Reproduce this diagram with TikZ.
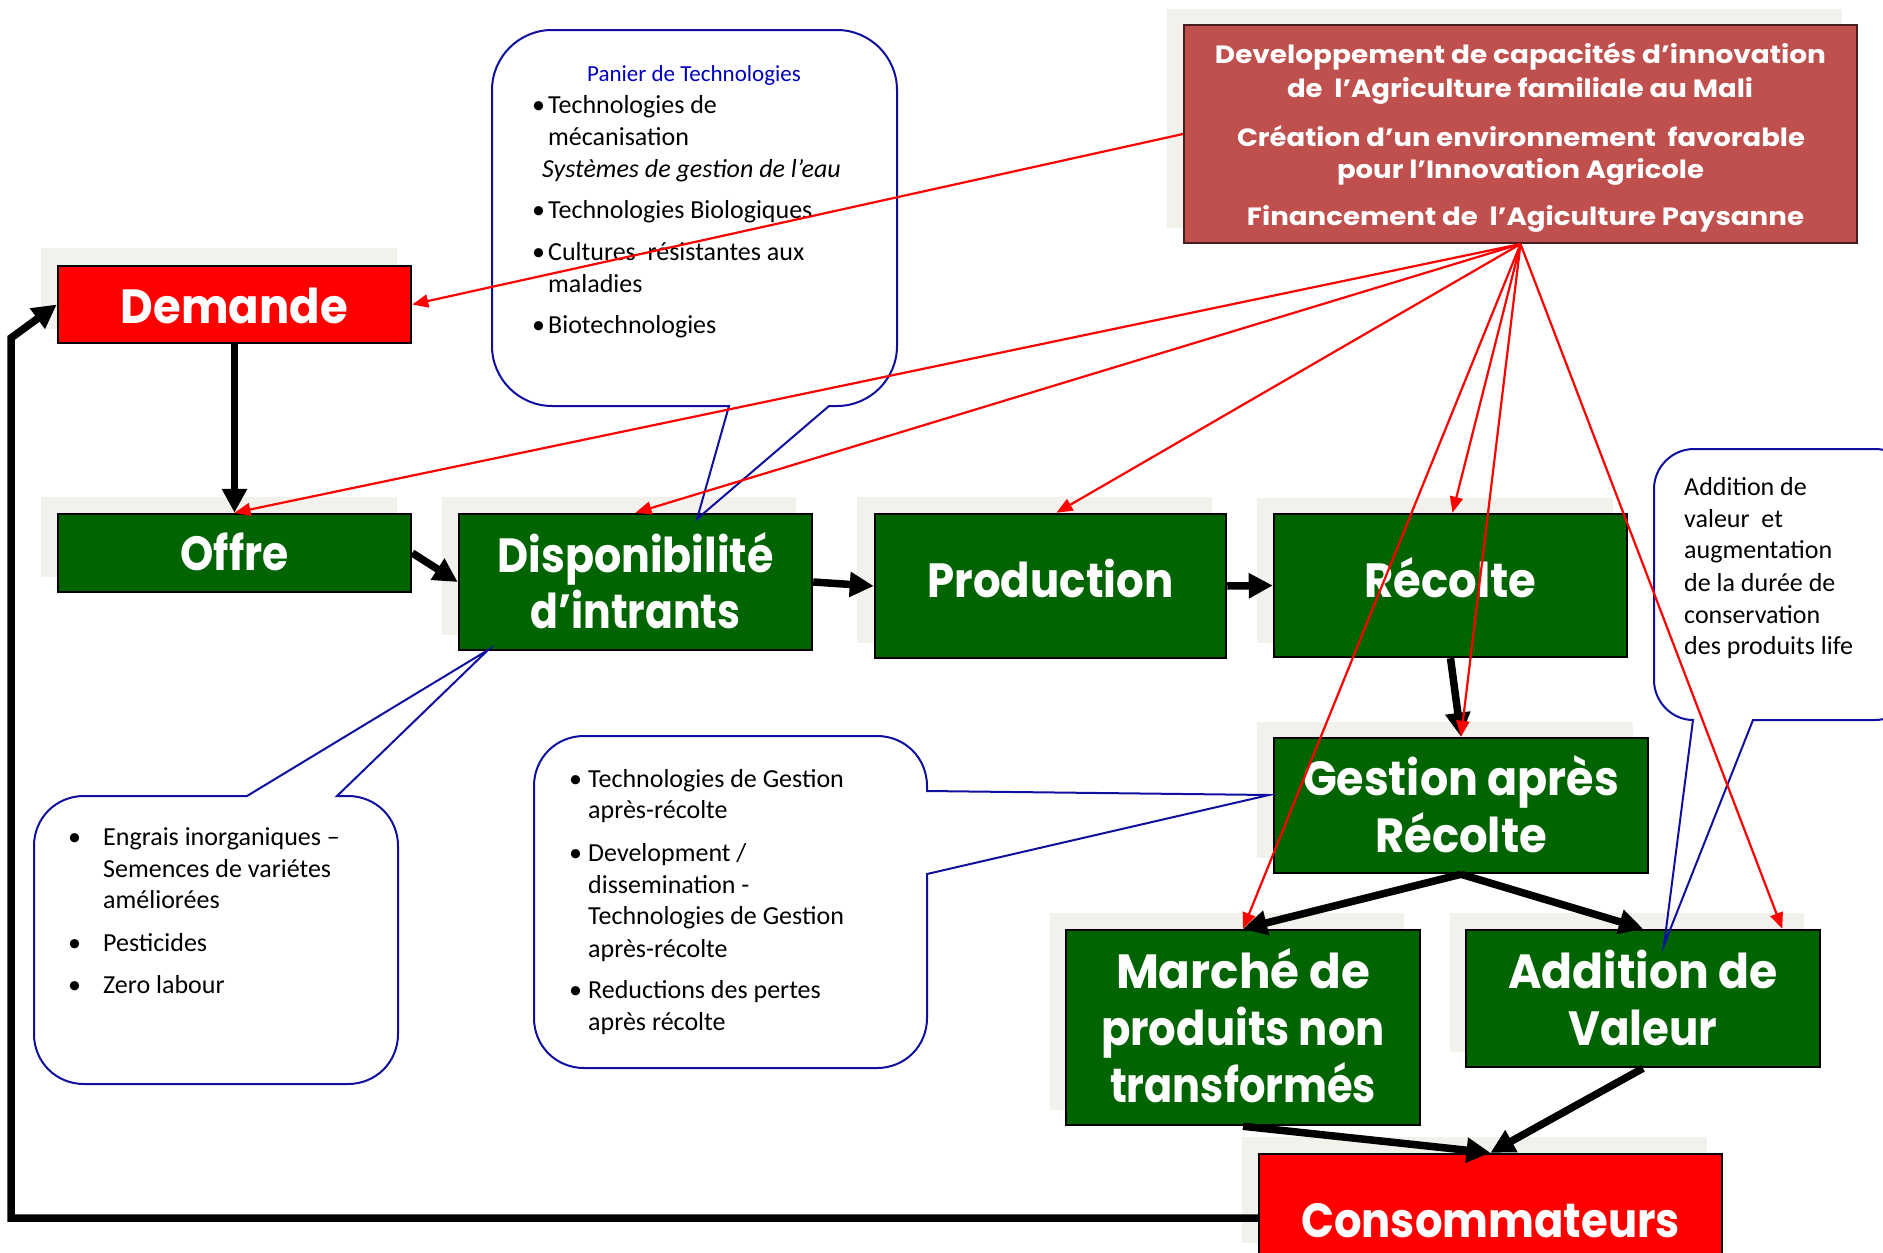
\documentclass[tikz,border=0pt]{standalone}
\usepackage{fontspec}
\usepackage{graphicx}
\setmainfont{Carlito}
\newfontfamily\pop{Poppins}
\usetikzlibrary{arrows.meta,calc}
\definecolor{topred}{RGB}{192,80,77}
\definecolor{topborder}{RGB}{70,30,30}
\definecolor{bred}{RGB}{255,0,0}
\definecolor{bgreen}{RGB}{0,100,0}
\definecolor{shadowgrey}{RGB}{242,241,236}
\definecolor{cblue}{RGB}{16,16,160}
\definecolor{tblue}{RGB}{0,0,190}
\newcommand{\fw}[2]{\resizebox{#1}{\height}{#2}}
\begin{document}
\begin{tikzpicture}[x=1pt,y=-1pt,
  boxnode/.style={rectangle, draw=black, line width=2.5pt, inner sep=0pt},
  lbl/.style={anchor=base, inner sep=0pt, text=white, font=\pop\bfseries\fontsize{48}{57}\selectfont},
  toplbl/.style={anchor=base, inner sep=0pt, text=white, font=\pop\bfseries\fontsize{25}{34}\selectfont},
  blkarrow/.style={draw=black, line width=7.5pt, -{Triangle[length=24pt,width=24pt]}},
  redarrow/.style={draw=bred, line width=2.2pt, -{Triangle[length=16pt,width=13pt]}},
  callout/.style={draw=cblue, line width=2pt},
  ct/.style={anchor=base west, inner sep=0pt, font=\fontsize{26}{32}\selectfont},
]
\useasboundingbox (0,0) rectangle (1883,1253);
\fill[white] (0,0) rectangle (1883,1253);

% grey shadows
\foreach \a/\b/\c/\d in {1167/9/1842/228, 41/248/397/329, 41/497/397/577, 442/497/796/635, 857/497/1212/643, 1257/498/1613/643, 1257/722/1633/858, 1050/913/1404/1110, 1450/913/1804/1052, 1242/1137/1707/1243}
  \fill[shadowgrey] (\a,\b) rectangle (\c,\d);

% boxes
\node[boxnode, fill=topred, draw=topborder, line width=2pt, minimum width=673pt, minimum height=218pt] (top) at (1520.5,134) {};
\node[boxnode, fill=bred, minimum width=353pt, minimum height=77pt] (demande) at (234.5,304.5) {};
\node[boxnode, fill=bgreen, minimum width=353pt, minimum height=78pt] (offre) at (234.5,553) {};
\node[boxnode, fill=bgreen, minimum width=353pt, minimum height=136pt] (dispo) at (635.5,582) {};
\node[boxnode, fill=bgreen, minimum width=351pt, minimum height=144pt] (production) at (1050.5,586) {};
\node[boxnode, fill=bgreen, minimum width=353pt, minimum height=143pt] (recolte) at (1450.5,585.5) {};
\node[boxnode, fill=bgreen, minimum width=374pt, minimum height=135pt] (gestion) at (1461,805.5) {};
\node[boxnode, fill=bgreen, minimum width=354pt, minimum height=195pt] (marche) at (1243,1027.5) {};
\node[boxnode, fill=bgreen, minimum width=354pt, minimum height=137pt] (addition) at (1643,998.5) {};
\node[boxnode, fill=bred, minimum width=463pt, minimum height=128pt] (cons) at (1490.5,1218) {};

% box texts
\node[toplbl] (tl1) at (1520.5,63) {\fw{611pt}{Developpement de capacités d’innovation}};
\node[toplbl] (tl2) at (1520,97) {\fw{466pt}{de\ \ l’Agriculture familiale au Mali}};
\node[toplbl] (tl3) at (1521,146) {\fw{568pt}{Création d’un environnement\ \ favorable}};
\node[toplbl] (tl4) at (1520.5,178) {\fw{367pt}{pour l’Innovation Agricole}};
\node[toplbl] (tl5) at (1525.5,225) {\fw{557pt}{Financement de\ \ l’Agiculture Paysanne}};
\node[lbl] (tdem) at (234.5,323) {\fw{227pt}{Demande}};
\node[lbl] (toff) at (234.5,570) {\fw{108pt}{Offre}};
\node[lbl] (tdis1) at (635.5,572) {\fw{276pt}{Disponibilité}};
\node[lbl] (tdis2) at (635.5,628) {\fw{210pt}{d’intrants}};
\node[lbl] (tpro) at (1050.5,597) {\fw{246pt}{Production}};
\node[lbl] (trec) at (1450.5,597) {\fw{172pt}{Récolte}};
\node[lbl] (tges1) at (1461,795) {\fw{316pt}{Gestion après}};
\node[lbl] (tges2) at (1461,852) {\fw{172pt}{Récolte}};
\node[lbl] (tmar1) at (1243,988) {\fw{254pt}{Marché de}};
\node[lbl] (tmar2) at (1243,1045) {\fw{284pt}{produits non}};
\node[lbl] (tmar3) at (1243,1102) {\fw{266pt}{transformés}};
\node[lbl] (tadd1) at (1643,988) {\fw{270pt}{Addition de}};
\node[lbl] (tadd2) at (1643,1045) {\fw{149pt}{Valeur}};
\node[lbl] (tcon) at (1490.5,1237) {\fw{379pt}{Consommateurs}};

% black flow arrows
\coordinate (fbA) at (11,1218);
\coordinate (fbB) at (11,338);
\draw[blkarrow] (demande.south) -- (offre.north);
\draw[blkarrow] (offre.east) -- (dispo.west);
\draw[blkarrow] (dispo.east) -- (production.west);
\draw[blkarrow] (production.east) -- (recolte.west);
\draw[blkarrow] (recolte.south) -- (gestion.north);
\draw[blkarrow] (gestion.south) -- (marche.north);
\draw[blkarrow] (gestion.south) -- (addition.north);
\draw[blkarrow] (marche.south) -- (cons.north);
\draw[blkarrow] (addition.south) -- (cons.north);
\draw[blkarrow] (cons.west) -- (cons.west -| fbA) -- (fbB) -- (demande.west);

% callouts
\draw[callout] (552,30) -- (837,30) .. controls (870,30) and (897,57) .. (897,90) -- (897,346) .. controls (897,379) and (870,406) .. (837,406) -- (829,406) -- (697,519) -- (729,406) -- (552,406) .. controls (519,406) and (492,379) .. (492,346) -- (492,90) .. controls (492,57) and (519,30) .. (552,30) -- cycle;
\draw[callout] (84,796) -- (247,796) -- (488,650) -- (337,796) -- (348,796) .. controls (376,796) and (398,818) .. (398,846) -- (398,1034) .. controls (398,1062) and (376,1084) .. (348,1084) -- (84,1084) .. controls (56,1084) and (34,1062) .. (34,1034) -- (34,846) .. controls (34,818) and (56,796) .. (84,796) -- cycle;
\draw[callout] (584,736) -- (877,736) .. controls (905,736) and (927,758) .. (927,786) -- (927,791) -- (1269,795) -- (927,874) -- (927,1018) .. controls (927,1046) and (905,1068) .. (877,1068) -- (584,1068) .. controls (556,1068) and (534,1046) .. (534,1018) -- (534,786) .. controls (534,758) and (556,736) .. (584,736) -- cycle;
\draw[callout] (1694,449) -- (1875,449) .. controls (1897,449) and (1915,467) .. (1915,489) -- (1915,680) .. controls (1915,702) and (1897,720) .. (1875,720) -- (1753,720) -- (1664,945) -- (1693,720) .. controls (1672,720) and (1654,702) .. (1654,680) -- (1654,489) .. controls (1654,467) and (1672,449) .. (1694,449) -- cycle;

% callout texts
\node[anchor=base, inner sep=0pt, text=tblue, font=\fontsize{23}{28}\selectfont] (ptitle) at (694,81) {Panier de Technologies};
\node[ct] (p1) at (532,113) {\makebox[16pt][l]{•}Technologies de};
\node[ct] (p2) at (548,145) {mécanisation};
\node[ct] (p3) at (542,177) {\itshape Systèmes de gestion de l’eau};
\node[ct] (p4) at (532,218) {\makebox[16pt][l]{•}Technologies Biologiques};
\node[ct] (p5) at (532,260) {\makebox[16pt][l]{•}Cultures\ \ résistantes aux};
\node[ct] (p6) at (548,292) {maladies};
\node[ct] (p7) at (532,333) {\makebox[16pt][l]{•}Biotechnologies};

\node[ct] (l1) at (68,845) {\makebox[35pt][l]{•}Engrais inorganiques –};
\node[ct] (l2) at (103,877) {Semences de variétes};
\node[ct] (l3) at (103,908) {améliorées};
\node[ct] (l4) at (68,951) {\makebox[35pt][l]{•}Pesticides};
\node[ct] (l5) at (68,993) {\makebox[35pt][l]{•}Zero labour};

\node[ct] (m1) at (569,787) {\makebox[19pt][l]{•}Technologies de Gestion};
\node[ct] (m2) at (588,818) {après-récolte};
\node[ct] (m3) at (569,861) {\makebox[19pt][l]{•}Development /};
\node[ct] (m4) at (588,893) {dissemination -};
\node[ct] (m5) at (588,924) {Technologies de Gestion};
\node[ct] (m6) at (588,957) {après-récolte};
\node[ct] (m7) at (569,998) {\makebox[19pt][l]{•}Reductions des pertes};
\node[ct] (m8) at (588,1030) {après récolte};

\node[ct] (r1) at (1684,495) {Addition de};
\node[ct] (r2) at (1684,527) {valeur\ \ et};
\node[ct] (r3) at (1684,558) {augmentation};
\node[ct] (r4) at (1684,591) {de la durée de};
\node[ct] (r5) at (1684,623) {conservation};
\node[ct] (r6) at (1684,654) {des produits life};

% red arrows
\draw[redarrow] (top.west) -- (demande.east);
\draw[redarrow] (top.south) -- (offre.north);
\draw[redarrow] (top.south) -- (dispo.north);
\draw[redarrow] (top.south) -- ($(production.north)+(6,0)$);
\draw[redarrow] (top.south) -- ($(recolte.north)+(2,0)$);
\draw[redarrow] (top.south) -- (gestion.north);
\draw[redarrow] (top.south) -- (marche.north);
\draw[redarrow] (top.south) -- ($(addition.north east)+(-39,0)$);
\end{tikzpicture}
\end{document}
